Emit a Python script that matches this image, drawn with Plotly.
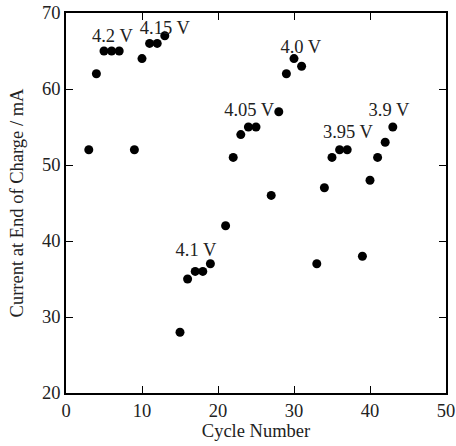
import plotly.graph_objects as go

cycles = [3, 4, 5, 6, 7, 9, 10, 11, 12, 13,
          15, 16, 17, 18, 19,
          21, 22, 23, 24, 25,
          27, 28, 29, 30, 31,
          33, 34, 35, 36, 37,
          39, 40, 41, 42, 43]
current = [52, 62, 65, 65, 65, 52, 64, 66, 66, 67,
           28, 35, 36, 36, 37,
           42, 51, 54, 55, 55,
           46, 57, 62, 64, 63,
           37, 47, 51, 52, 52,
           38, 48, 51, 53, 55]

label_text = ["4.2 V", "4.15 V", "4.1 V", "4.05 V", "4.0 V", "3.95 V", "3.9 V"]
label_x = [6.1, 13.0, 17.1, 24.1, 30.9, 37.1, 42.5]
label_y = [66.8, 67.9, 38.6, 57.1, 65.4, 54.2, 57.0]

FONT = "Liberation Serif, Times New Roman, serif"
FS = 18.5

fig = go.Figure()
fig.add_trace(go.Scatter(x=cycles, y=current, mode="markers",
                         marker=dict(color="black", size=9),
                         showlegend=False, hoverinfo="skip"))
fig.add_trace(go.Scatter(x=label_x, y=label_y, mode="text", text=label_text,
                         textfont=dict(family=FONT, size=FS, color="#222"),
                         showlegend=False, hoverinfo="skip"))

axis_common = dict(showgrid=False, zeroline=False, showline=True, linecolor="black",
                   linewidth=1.5, mirror="ticks", ticks="inside", ticklen=7,
                   tickcolor="black", tickwidth=1.2, automargin=False,
                   tickfont=dict(family=FONT, size=FS, color="#222"))

fig.update_xaxes(range=[0, 50], dtick=10, tick0=0,
                 title=dict(text="Cycle Number", font=dict(family=FONT, size=FS, color="#222"), standoff=4),
                 **axis_common)
fig.update_yaxes(range=[20, 70], dtick=10, tick0=20,
                 title=dict(text="Current at End of Charge / mA", font=dict(family=FONT, size=FS, color="#222"), standoff=14),
                 **axis_common)

fig.update_layout(width=456, height=446, margin=dict(l=66, r=10, t=13, b=53, autoexpand=False),
                  plot_bgcolor="white", paper_bgcolor="white")

fig.write_html("out.html")
